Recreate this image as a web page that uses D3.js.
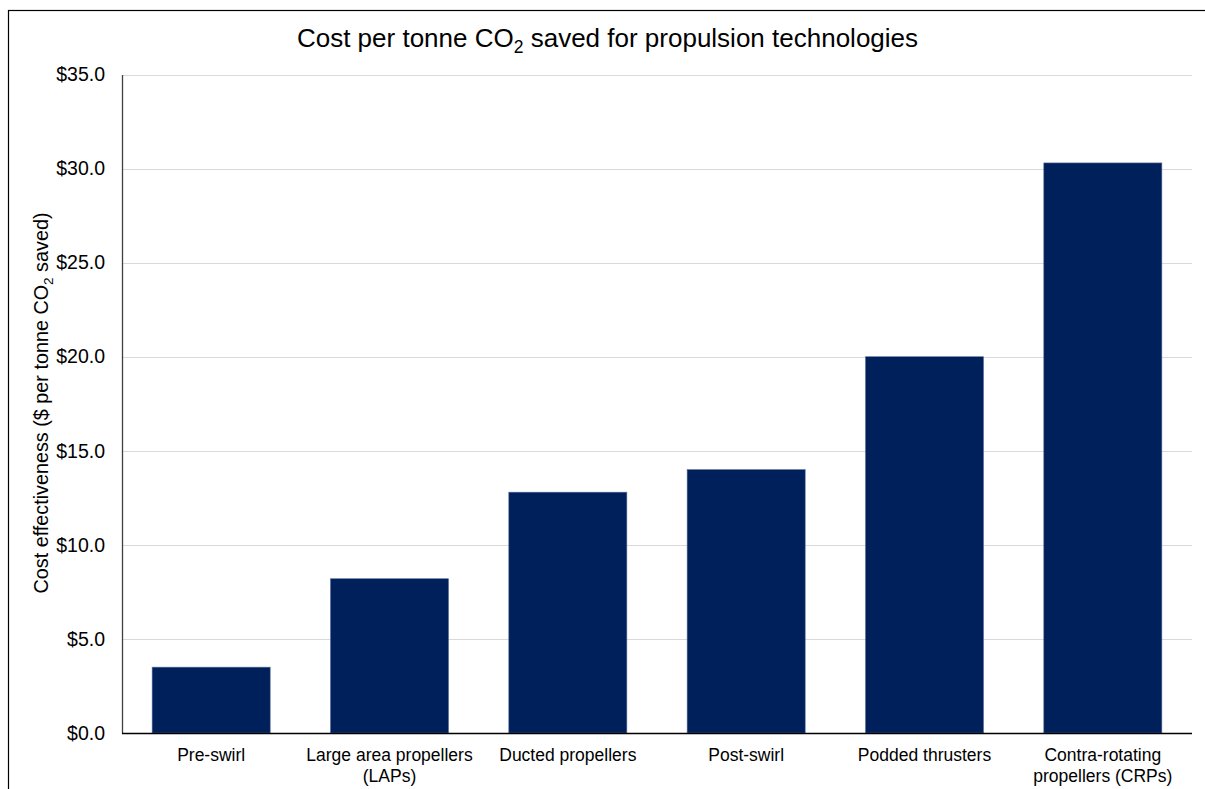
<!DOCTYPE html>
<html>
<head>
<meta charset="utf-8">
<script src="https://cdn.jsdelivr.net/npm/d3@7"></script>
<style>
  html, body { margin: 0; padding: 0; background: #fff; }
  svg { display: block; font-family: "Liberation Sans", Arial, sans-serif; }
</style>
</head>
<body>
<svg id="chart" width="1205" height="789"></svg>
<script>
// Cost per tonne of CO2 saved, by propulsion technology
const categories = [
  ["Pre-swirl"],
  ["Large area propellers", "(LAPs)"],
  ["Ducted propellers"],
  ["Post-swirl"],
  ["Podded thrusters"],
  ["Contra-rotating", "propellers (CRPs)"]
];
const costValues = [3.5, 8.2, 12.8, 14.0, 20.0, 30.3];
const yTicks = [0, 5, 10, 15, 20, 25, 30, 35];

const svg = d3.select("#chart");
const plotLeft = 122, plotRight = 1192, plotTop = 74.5, plotBottom = 733;

// outer frame
svg.append("rect")
  .attr("x", 8.5).attr("y", 10.5)
  .attr("width", 1220).attr("height", 800)
  .attr("fill", "none").attr("stroke", "#000").attr("stroke-width", 1.2);

const labels = categories.map(c => c.join(" "));
const x = d3.scaleBand().domain(labels).range([plotLeft, plotRight]).paddingInner(0.338).paddingOuter(0.169);
const y = d3.scaleLinear().domain([0, 35]).range([plotBottom, plotTop]);

// gridlines
svg.append("g")
  .selectAll("line").data(yTicks.filter(d => d > 0)).join("line")
  .attr("x1", plotLeft).attr("x2", plotRight)
  .attr("y1", d => Math.round(y(d)) + 0.5).attr("y2", d => Math.round(y(d)) + 0.5)
  .attr("stroke", "#d9d9d9").attr("stroke-width", 1);

// y axis
const yAxis = d3.axisLeft(y).tickValues(yTicks).tickFormat(d => "$" + d3.format(".1f")(d)).tickSize(0).tickPadding(17);
const gy = svg.append("g").attr("transform", `translate(${plotLeft},0)`).call(yAxis);
gy.select(".domain").attr("stroke", "#404040").attr("stroke-width", 1.3);
gy.selectAll("text").attr("font-size", 19.5).attr("fill", "#000")
  .attr("font-family", "'Liberation Sans', Arial, sans-serif");

// bars
svg.append("g")
  .selectAll("rect").data(costValues).join("rect")
  .attr("x", (d, i) => x(labels[i]))
  .attr("width", x.bandwidth())
  .attr("y", d => y(d))
  .attr("height", d => y(0) - y(d))
  .attr("fill", "#00205b")
  .attr("stroke", "#5a6f9a").attr("stroke-width", 0.6);

// x axis baseline
svg.append("line")
  .attr("x1", plotLeft).attr("x2", plotRight)
  .attr("y1", plotBottom + 0.5).attr("y2", plotBottom + 0.5)
  .attr("stroke", "#000").attr("stroke-width", 1.3);

// category labels
const xl = svg.append("g");
categories.forEach((lines, i) => {
  const cx = x(labels[i]) + x.bandwidth() / 2;
  const t = xl.append("text").attr("text-anchor", "middle")
    .attr("font-size", 17.5).attr("fill", "#000");
  lines.forEach((ln, j) => {
    t.append("tspan").attr("x", cx).attr("y", 761 + j * 20.5).text(ln);
  });
});

// title
const title = svg.append("text").attr("x", 607.5).attr("y", 46.5)
  .attr("text-anchor", "middle").attr("font-size", 26).attr("fill", "#000");
title.append("tspan").text("Cost per tonne CO");
title.append("tspan").attr("font-size", 17.5).attr("dy", 6).text("2");
title.append("tspan").attr("dy", -6).text(" saved for propulsion technologies");

// y axis title
const yt = svg.append("text")
  .attr("transform", "translate(48,403) rotate(-90)")
  .attr("text-anchor", "middle").attr("font-size", 19.8).attr("fill", "#000");
yt.append("tspan").text("Cost effectiveness ($ per tonne CO");
yt.append("tspan").attr("font-size", 13.5).attr("dy", 5).text("2");
yt.append("tspan").attr("dy", -5).text(" saved)");
</script>
</body>
</html>
